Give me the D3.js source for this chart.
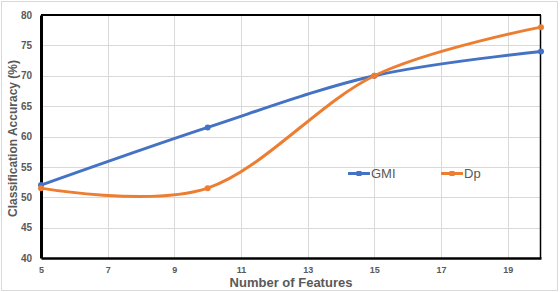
<!DOCTYPE html>
<html>
<head>
<meta charset="utf-8">
<script src="https://cdn.jsdelivr.net/npm/d3@7"></script>
<style>
  body { margin: 0; background: #fff; }
  svg { display: block; font-family: 'Liberation Sans', Arial, sans-serif; }
</style>
</head>
<body>
<div id="chart"></div>
<script>
const features = [5, 10, 15, 20];
const gmiValues = [52, 61.5, 70, 74];
const dpValues = [51.5, 51.5, 70, 78];
const xTicks = [5, 7, 9, 11, 13, 15, 17, 19];
const yTicks = [40, 45, 50, 55, 60, 65, 70, 75, 80];

const series = [
  { key: 'GMI', values: gmiValues, color: '#4472c4' },
  { key: 'Dp', values: dpValues, color: '#ed7d31' },
];

const size = { width: 560, height: 292 };
const margin = { top: 15, right: 19, bottom: 34, left: 41 };

const svg = d3
  .select('#chart')
  .append('svg')
  .attr('width', size.width)
  .attr('height', size.height);

// outer chart frame
svg
  .append('rect')
  .attr('x', 1.5)
  .attr('y', 1.5)
  .attr('width', 556)
  .attr('height', 289)
  .attr('fill', '#fff')
  .attr('stroke', '#d9d9d9');

const x = d3
  .scaleLinear()
  .domain([5, 20])
  .range([margin.left, size.width - margin.right]);

const y = d3
  .scaleLinear()
  .domain([40, 80])
  .range([size.height - margin.bottom, margin.top]);

// grid
svg
  .append('g')
  .selectAll('line')
  .data(yTicks)
  .join('line')
  .attr('x1', x(5))
  .attr('x2', x(20))
  .attr('y1', (d) => Math.round(y(d)) + 0.5)
  .attr('y2', (d) => Math.round(y(d)) + 0.5)
  .attr('stroke', '#d9d9d9');

svg
  .append('g')
  .selectAll('line')
  .data(xTicks.slice(1))
  .join('line')
  .attr('x1', (d) => Math.round(x(d)) + 0.5)
  .attr('x2', (d) => Math.round(x(d)) + 0.5)
  .attr('y1', y(40))
  .attr('y2', y(80))
  .attr('stroke', '#d9d9d9');

// plot frame
svg
  .append('line')
  .attr('x1', x(5))
  .attr('x2', x(20))
  .attr('y1', y(80))
  .attr('y2', y(80))
  .attr('stroke', '#000')
  .attr('stroke-width', 2);
svg
  .append('line')
  .attr('x1', Math.round(x(20)) - 0.5)
  .attr('x2', Math.round(x(20)) - 0.5)
  .attr('y1', y(80))
  .attr('y2', y(40))
  .attr('stroke', '#000')
  .attr('stroke-width', 1.5);

// axes
const xAxis = svg
  .append('g')
  .attr('transform', `translate(0, ${y(40)})`)
  .call(d3.axisBottom(x).tickValues(xTicks).tickSize(0).tickPadding(9));
xAxis.select('.domain').attr('stroke', '#000').attr('stroke-width', 2.5);
xAxis
  .selectAll('text')
  .attr('fill', '#595959')
  .style('font-size', '9px')
  .style('font-weight', 'bold');

const yAxis = svg
  .append('g')
  .attr('transform', `translate(${x(5)}, 0)`)
  .call(d3.axisLeft(y).tickValues(yTicks).tickSize(0).tickPadding(9));
yAxis.select('.domain').attr('stroke', '#000').attr('stroke-width', 3);
yAxis
  .selectAll('text')
  .attr('fill', '#595959')
  .style('font-size', '10px')
  .style('font-weight', 'bold');

// titles
svg
  .append('text')
  .text('Number of Features')
  .attr('x', 291)
  .attr('y', 287)
  .attr('text-anchor', 'middle')
  .attr('fill', '#595959')
  .style('font-size', '13px')
  .style('font-weight', 'bold');

svg
  .append('text')
  .text('Classification Accuracy (%)')
  .attr('transform', `translate(17, ${(y(40) + y(80)) / 2 + 2}) rotate(-90)`)
  .attr('text-anchor', 'middle')
  .attr('fill', '#595959')
  .style('font-size', '12px')
  .style('font-weight', 'bold');

// lines
const line = d3
  .line()
  .x((d) => x(d.f))
  .y((d) => y(d.v))
  .curve(d3.curveCardinal.tension(0));

const pts = (s) => features.map((f, i) => ({ f, v: s.values[i] }));

svg
  .selectAll('.series')
  .data(series)
  .join((enter) => {
    const g = enter.append('g');
    g.append('path')
      .attr('d', (d) => line(pts(d)))
      .attr('fill', 'none')
      .attr('stroke', (d) => d.color)
      .attr('stroke-width', 3);
    g.selectAll('circle')
      .data((d) => pts(d).map((p) => ({ ...p, color: d.color })))
      .join('circle')
      .attr('cx', (d) => x(d.f))
      .attr('cy', (d) => y(d.v))
      .attr('r', 3)
      .attr('fill', (d) => d.color);
    return g;
  });

// legend
const legendX = [348, 441];
const legendY = 173.5;
const legend = svg
  .selectAll('.legend')
  .data(series)
  .join('g')
  .attr('transform', (d, i) => `translate(${legendX[i]}, ${legendY})`);
legend
  .append('line')
  .attr('x1', 0)
  .attr('x2', 22)
  .attr('stroke', (d) => d.color)
  .attr('stroke-width', 3);
legend
  .append('rect')
  .attr('x', 8.5)
  .attr('y', -2.5)
  .attr('width', 5)
  .attr('height', 5)
  .attr('fill', (d) => d.color);
legend
  .append('text')
  .text((d) => d.key)
  .attr('x', 23)
  .attr('dy', '0.35em')
  .attr('fill', '#595959')
  .style('font-size', '13px');
</script>
</body>
</html>
